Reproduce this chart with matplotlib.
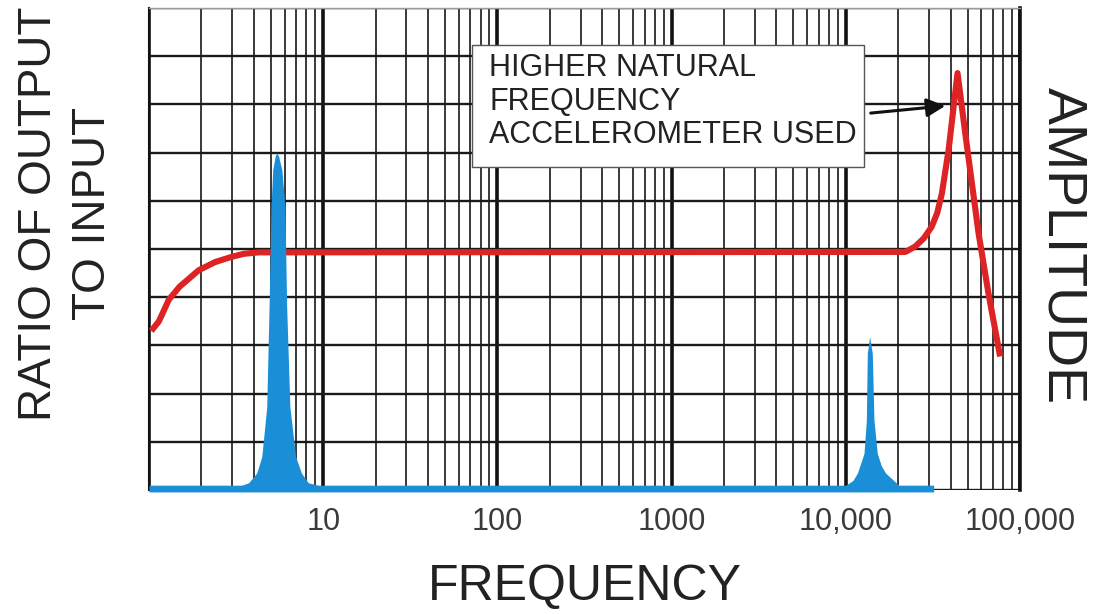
import matplotlib
matplotlib.use('Agg')
import matplotlib.pyplot as plt
from matplotlib.ticker import LogLocator, NullFormatter
from matplotlib.patches import Rectangle

# red curve: accelerometer response (ratio of output to input)
freq_red = [1.03, 1.14, 1.3, 1.5, 1.93, 2.4, 3.0, 3.5, 4.25, 22000, 25000, 28000, 31100, 33500, 35600, 38900,
            43800, 48500, 57800, 65900, 76900]
ratio_red = [3.3, 3.5, 3.95, 4.22, 4.56, 4.73, 4.84, 4.9, 4.93, 4.94, 5.05, 5.22, 5.46, 5.75, 6.15, 7.05,
             8.65, 7.4, 5.33, 4.08, 2.77]

# blue spectrum: amplitude
freq_blue = [1.0, 3.41, 3.73, 4.15, 4.44, 4.74, 4.89, 5.02, 5.13, 5.3, 5.41, 5.55, 5.79, 6.03, 6.17, 6.44, 6.95,
             7.5, 8.21, 9.36,
             10000, 11000, 11650, 12720, 13120, 13290, 13710, 14190, 14510, 15160, 16000, 16930, 20160, 31960]
amp_blue = [0.1, 0.1, 0.15, 0.35, 0.69, 1.72, 3.81, 5.88, 6.64, 6.92, 7.0, 6.92, 6.64, 5.88, 3.81, 1.72, 0.69,
            0.35, 0.15, 0.1,
            0.1, 0.2, 0.35, 0.76, 1.45, 2.84, 3.18, 2.84, 1.45, 0.76, 0.5, 0.35, 0.1, 0.1]

decades = [1, 10, 100, 1000, 10000, 100000]
decade_labels = ['', '10', '100', '1000', '10,000', '100,000']

plt.rcParams['font.family'] = ['Liberation Sans', 'DejaVu Sans']

fig = plt.figure(figsize=(10.94, 6.14), dpi=100)
ax = fig.add_axes([149 / 1094, 124 / 614, 871 / 1094, 482 / 614])

ax.set_xscale('log')
ax.set_xlim(1, 1e5)
ax.set_ylim(0, 10)
ax.set_axisbelow(True)

ax.set_xticks(decades, decade_labels)
ax.xaxis.set_minor_locator(LogLocator(base=10, subs=range(2, 10)))
ax.xaxis.set_minor_formatter(NullFormatter())
ax.set_yticks(range(0, 11))
ax.set_yticklabels([])
ax.tick_params(axis='both', which='both', length=0)
ax.tick_params(axis='x', pad=12, labelsize=22, labelcolor='#3a3a3a')

ax.grid(which='major', axis='x', color='#111111', lw=2.6)
ax.grid(which='minor', axis='x', color='#2a2a2a', lw=1.3)
ax.grid(which='major', axis='y', color='#1a1a1a', lw=1.7)

ax.spines['left'].set_color('#111111')
ax.spines['left'].set_linewidth(1.5)
ax.spines['right'].set_color('#111111')
ax.spines['right'].set_linewidth(2.6)
ax.spines['top'].set_color('#9a9a9a')
ax.spines['top'].set_linewidth(1.0)
ax.spines['bottom'].set_visible(False)

ax.plot(freq_red, ratio_red, color='#dd2323', lw=4.4, solid_capstyle='butt', solid_joinstyle='round', zorder=3)
ax.fill_between(freq_blue, -0.04, amp_blue, color='#1a8fd8', lw=0, zorder=4, clip_on=False)

# annotation box
fig.patches.append(Rectangle((471.7 / 1094, (614 - 166.7) / 614), (864 - 471.7) / 1094, (166.7 - 45) / 614,
                             transform=fig.transFigure, facecolor='white', edgecolor='#555555', lw=1.0, zorder=5))
fig.text(489 / 1094, (614 - 53) / 614, 'HIGHER NATURAL\nFREQUENCY\nACCELEROMETER USED',
         ha='left', va='top', fontsize=22, color='#222222', linespacing=1.16, zorder=6)
ax.annotate('', xy=(37260, 7.97), xytext=(13900, 7.82),
            arrowprops=dict(arrowstyle='-|>', color='#111111', lw=2.2, mutation_scale=28,
                            shrinkA=0, shrinkB=0), zorder=6)

fig.text(66 / 1094, (614 - 214) / 614, 'RATIO OF OUTPUT\nTO INPUT', rotation=90,
         ha='center', va='center', multialignment='center', fontsize=33,
         color='#222222', linespacing=1.32)
fig.text(1062 / 1094, (614 - 246) / 614, 'AMPLITUDE', rotation=-90,
         ha='center', va='center', fontsize=40, color='#222222')
fig.text(585 / 1094, (614 - 587) / 614, 'FREQUENCY', ha='center', va='center',
         fontsize=36, color='#222222')

fig.savefig('out.png', dpi=100)
